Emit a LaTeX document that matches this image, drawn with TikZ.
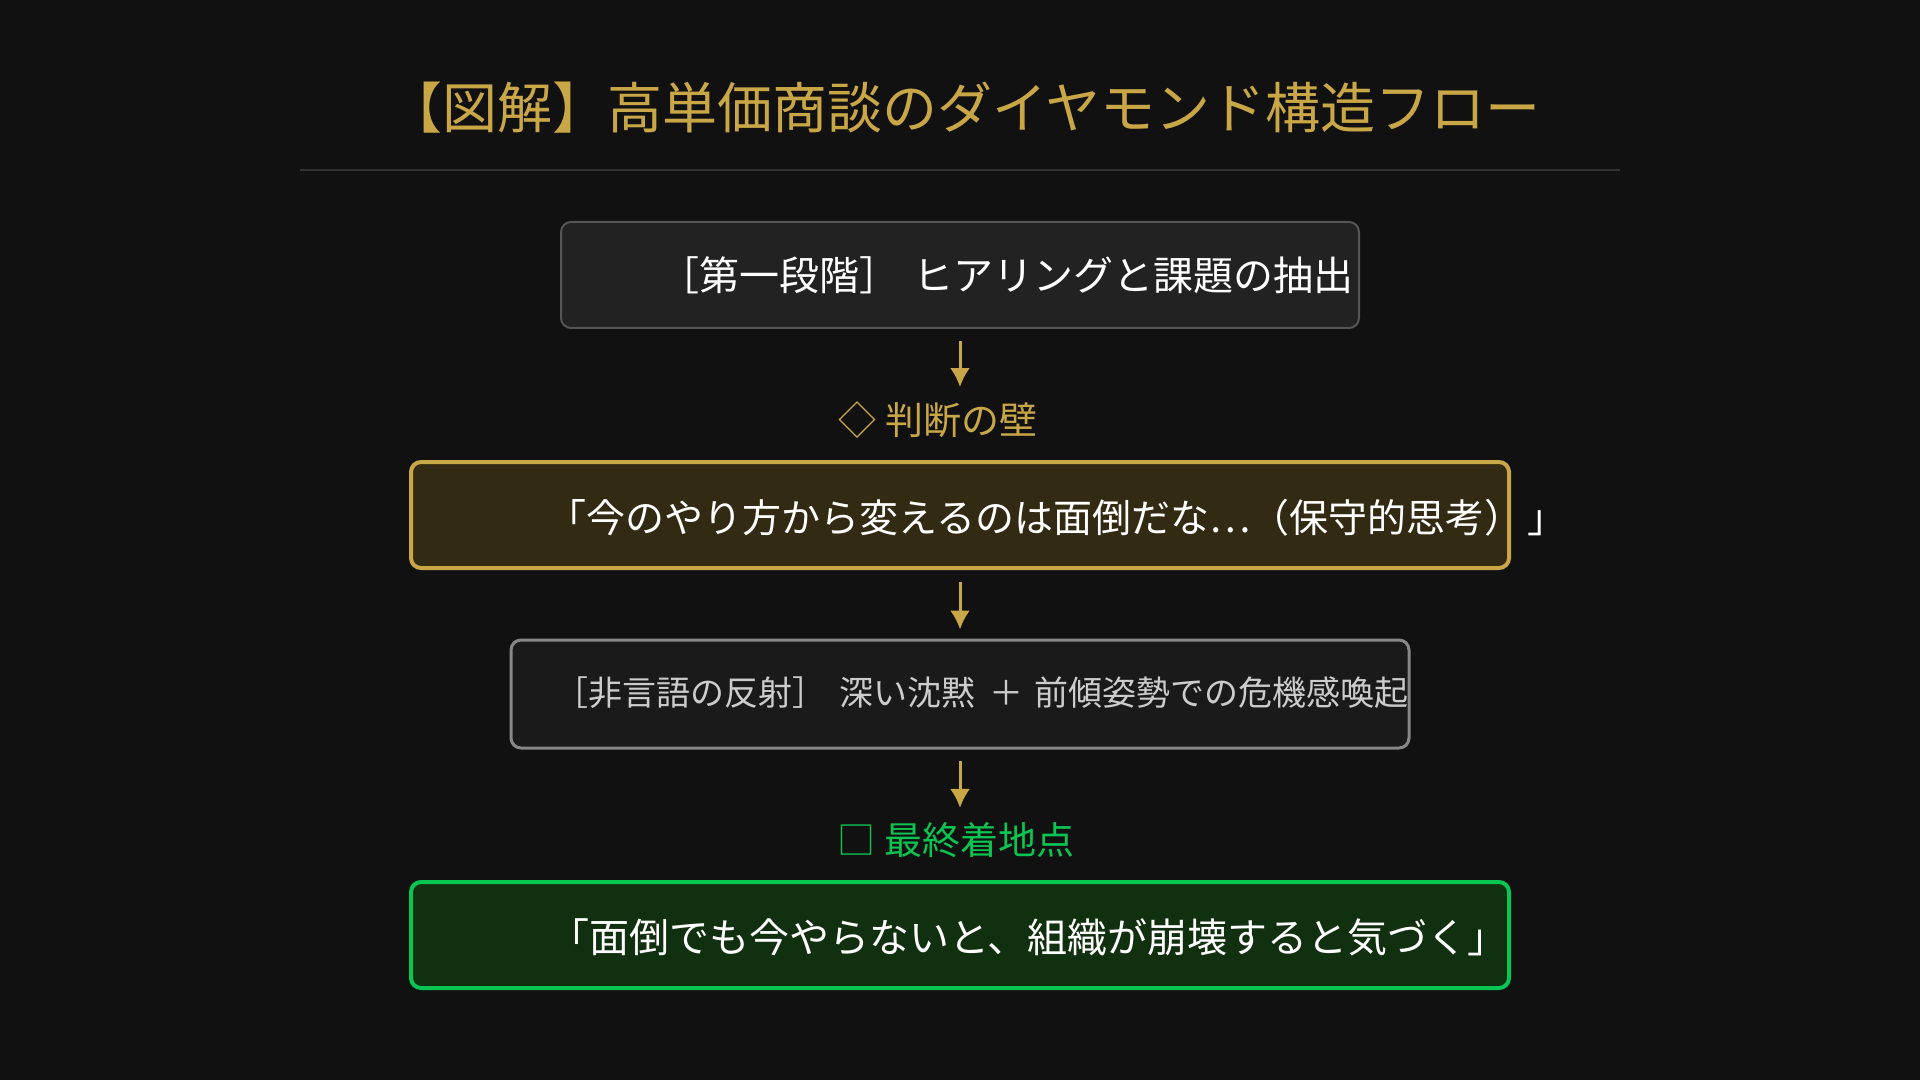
\documentclass[tikz,border=0pt]{standalone}
\usepackage{fontspec}
\setmainfont{Noto Sans CJK JP}
\usetikzlibrary{arrows.meta}
\definecolor{bgdark}{HTML}{111111}
\definecolor{gold}{HTML}{C9A646}
\definecolor{rulegray}{HTML}{333333}
\definecolor{stepfill}{HTML}{222222}
\definecolor{stepline}{HTML}{555555}
\definecolor{wallfill}{HTML}{332A14}
\definecolor{reflfill}{HTML}{1A1A1A}
\definecolor{reflline}{HTML}{888888}
\definecolor{refltext}{HTML}{CCCCCC}
\definecolor{goalfill}{HTML}{11300F}
\definecolor{goalgreen}{HTML}{0BC552}

\begin{document}
\begin{tikzpicture}[x=0.5pt, y=-0.5pt, >={Latex[length=9.5pt,width=10pt]},
  box/.style={rounded corners=5pt, minimum width=399pt, minimum height=53pt},
  flow/.style={->, draw=gold, line width=1.5pt},
  boxtext/.style={inner sep=0pt, text=white}]
% Background
\fill[bgdark] (0,0) rectangle (1920,1080);

% Title
\node[text=gold, font=\fontsize{27.5pt}{32pt}\selectfont] (title) at (964,108) {【図解】高単価商談のダイヤモンド構造フロー};
\draw[rulegray, line width=1pt] (300,170) -- (1620,170);

% Stage 1
\node[box, draw=stepline, fill=stepfill, line width=1pt] (hearing) at (960,275) {};
\node[boxtext, anchor=east, font=\fontsize{20pt}{24pt}\selectfont] (hearingtxt) at (1354,275) {［第一段階］\hspace{0.35em}ヒアリングと課題の抽出};

% Wall of judgement
\node[text=gold, inner sep=0pt, font=\fontsize{19pt}{23pt}\selectfont] (wall) at (938,420) {◇ 判断の壁};
\draw[flow, shorten <=6pt, shorten >=7pt] (hearing.south) -- (hearing.south |- wall.north);
\node[box, minimum width=549pt, draw=gold, fill=wallfill, line width=2pt] (habit) at (960,515) {};
\node[boxtext, anchor=east, font=\fontsize{19.5pt}{23pt}\selectfont] (habittxt) at (1567,518) {「今のやり方から変えるのは面倒だな…（保守的思考）\hspace{0.1em}」};

% Nonverbal reflection
\node[box, minimum width=449pt, minimum height=54pt, draw=reflline, fill=reflfill, line width=1.5pt] (reflex) at (960,694) {};
\node[boxtext, anchor=east, text=refltext, font=\fontsize{17pt}{21pt}\selectfont] (reflextxt) at (1409,693) {［非言語の反射］\hspace{0.38em}深い沈黙\hspace{0.4em}＋\hspace{0.33em}前傾姿勢での危機感喚起};
\draw[flow, shorten <=6pt, shorten >=4.5pt] (habit.south) -- (reflex.north);

% Final landing point
\node[text=goalgreen, inner sep=0pt, font=\fontsize{19pt}{23pt}\selectfont] (landing) at (956,840) {□ 最終着地点};
\draw[flow, shorten <=5.5pt, shorten >=7pt] (reflex.south) -- (reflex.south |- landing.north);
\node[box, minimum width=549pt, draw=goalgreen, fill=goalfill, line width=2pt] (goal) at (960,935) {};
\node[boxtext, anchor=east, font=\fontsize{20pt}{24pt}\selectfont] (goaltxt) at (1508,937) {「面倒でも今やらないと、組織が崩壊すると気づく」};
\end{tikzpicture}
\end{document}
